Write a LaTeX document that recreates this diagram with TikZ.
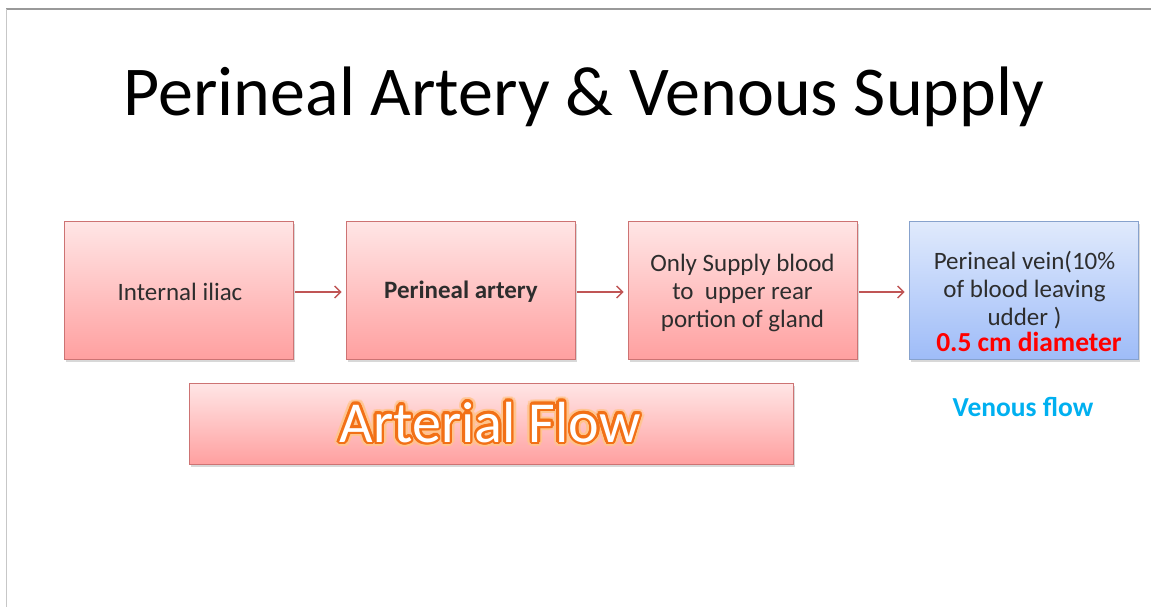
\documentclass[tikz,border=0pt]{standalone}
\usepackage{fontspec}
\setmainfont{Carlito}
\usetikzlibrary{shadows,arrows.meta,calc}
\definecolor{pinktop}{RGB}{255,230,230}
\definecolor{pinkbot}{RGB}{255,160,160}
\definecolor{pinkedge}{RGB}{205,115,115}
\definecolor{bluetop}{RGB}{224,234,252}
\definecolor{bluebot}{RGB}{158,188,248}
\definecolor{blueedge}{RGB}{135,162,205}
\definecolor{arrowcol}{RGB}{192,85,85}
\definecolor{textcol}{RGB}{45,45,45}
\definecolor{venous}{RGB}{0,176,240}
\definecolor{glowcol}{RGB}{255,196,140}
\definecolor{orangeA}{RGB}{242,112,22}
\begin{document}
\begin{tikzpicture}[x=1pt,y=-1pt,
  pinkbox/.style={draw=pinkedge, line width=0.8pt, top color=pinktop, bottom color=pinkbot,
    drop shadow={shadow xshift=1.5pt, shadow yshift=-2.5pt, opacity=0.3},
    minimum width=229pt, minimum height=138pt, inner sep=0pt},
  bluebox/.style={draw=blueedge, line width=0.8pt, top color=bluetop, bottom color=bluebot,
    drop shadow={shadow xshift=1.5pt, shadow yshift=-2.5pt, opacity=0.3},
    minimum width=229pt, minimum height=138pt, inner sep=0pt},
  boxtext/.style={text=textcol, font=\fontsize{25}{28}\selectfont, align=center, inner sep=0pt},
  arr/.style={draw=arrowcol, line width=1.4pt, -{Straight Barb[length=6pt,width=12pt,line width=1.4pt]}, shorten <=2pt, shorten >=4pt},
  glowtext/.style={font=\fontsize{58}{70}\selectfont, inner sep=0pt, anchor=base}
]
\useasboundingbox (0,0) rectangle (1151,607);
\fill[white] (0,0) rectangle (1151,607);
% slide frame
\draw[black!40, line width=2pt] (6,9) -- (1151,9);
\draw[black!22, line width=1.5pt] (6.5,9) -- (6.5,607);

% title
\node[anchor=base, inner sep=0pt, font=\fontsize{70}{84}\selectfont] (title) at (584,116) {Perineal Artery \& Venous Supply};

% boxes
\node[pinkbox] (b1) at (178.5,290) {};
\node[pinkbox] (b2) at (460.5,290) {};
\node[pinkbox] (b3) at (742.5,290) {};
\node[bluebox] (b4) at (1023.5,290.5) {};

\node[boxtext] (t1) at (180,292) {Internal iliac};
\node[boxtext, font=\fontsize{25}{28}\selectfont\bfseries] (t2) at (461,292) {Perineal artery};
\node[boxtext] (t3) at (742.5,293) {Only Supply blood\\to\ \ upper rear\\portion of gland};
\node[boxtext] (t4) at (1024.5,290.5) {Perineal vein(10\%\\of blood leaving\\udder )};
\node[inner sep=0pt, text=red, font=\fontsize{27.5}{30}\selectfont\bfseries] (d4) at (1029,341.5) {0.5 cm diameter};

% arrows
\draw[arr] (b1.east |- 0,292) -- (b2.west |- 0,292);
\draw[arr] (b2.east |- 0,292) -- (b3.west |- 0,292);
\draw[arr] (b3.east |- 0,292) -- (b4.west |- 0,292);

% arterial flow banner
\node[draw=pinkedge, line width=0.8pt, top color=pinktop, bottom color=pinkbot,
  drop shadow={shadow xshift=1.5pt, shadow yshift=-2.5pt, opacity=0.3},
  minimum width=604pt, minimum height=81pt, inner sep=0pt] (af) at (491,423.5) {};
\coordinate (afc) at (490,442);
\foreach \a in {0,20,...,340}{
  \node[glowtext, text=glowcol, opacity=0.6] (ga\a) at ($(afc)+(\a:5)$) {Arterial Flow};
}
\foreach \a in {0,20,...,340}{
  \node[glowtext, text=orangeA] (gb\a) at ($(afc)+(\a:2.6)$) {Arterial Flow};
}
\foreach \a in {0,45,...,315}{
  \node[glowtext, text=orangeA] (gc\a) at ($(afc)+(\a:1.2)$) {Arterial Flow};
}
\node[glowtext, text=white] (aflabel) at (afc) {Arterial Flow};

% venous flow
\node[inner sep=0pt, text=venous, font=\fontsize{27.5}{30}\selectfont\bfseries] (vf) at (1023,407) {Venous flow};
\end{tikzpicture}
\end{document}
